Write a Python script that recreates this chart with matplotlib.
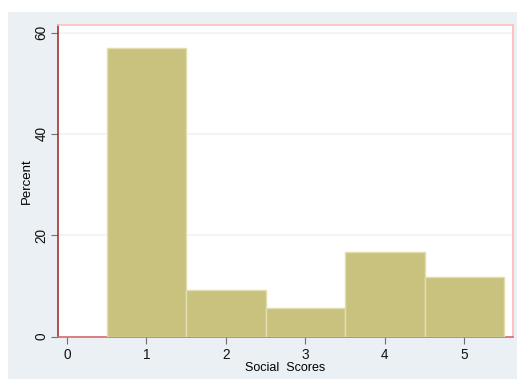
import matplotlib
matplotlib.use("Agg")
import matplotlib.pyplot as plt
from matplotlib.patches import Rectangle

plt.rcParams['font.family'] = ['Liberation Sans', 'DejaVu Sans']

scores = [1, 2, 3, 4, 5]
percent = [56.9, 9.2, 5.6, 16.65, 11.8]
xticks = [0, 1, 2, 3, 4, 5]
yticks = [0, 20, 40, 60]

fig = plt.figure(figsize=(5.17, 3.79), dpi=100)
fig.patch.set_facecolor('white')
# graph region background
fig.add_artist(Rectangle((8 / 517, 0), 1, (379 - 12) / 379, transform=fig.transFigure,
                         facecolor='#EAF0F3', edgecolor='none', zorder=0))

ax = fig.add_axes([58.3 / 517, 1 - 336.7 / 379, (512.7 - 58.3) / 517, (336.7 - 25) / 379])
ax.set_facecolor('white')

ax.bar(scores, percent, width=1.0, color='#C9C27F', edgecolor='#E2DDAE', linewidth=1.0, zorder=3)

ax.set_xlim(-0.11, 5.61)
ax.set_ylim(0, 61.5)
ax.set_xticks(xticks)
ax.set_yticks(yticks)
ax.set_yticklabels([str(v) for v in yticks], rotation=90, va='center')
ax.tick_params(axis='both', direction='out', length=5, width=0.8, color='#707070',
               labelsize=9.8, labelcolor='#111111', pad=3)
ax.tick_params(axis='y', pad=2)
ax.grid(axis='y', color='#EEF3F4', linewidth=1.2, zorder=0)

ax.spines['left'].set_color('#A83232')
ax.spines['bottom'].set_color('#D96A6A')
ax.spines['top'].set_color('#FFC0C0')
ax.spines['right'].set_color('#FFB8B8')
for s in ax.spines.values():
    s.set_linewidth(1.2)

ax.set_xlabel('Social  Scores', fontsize=9, labelpad=0)
ax.set_ylabel('Percent', fontsize=9.5)
ax.yaxis.set_label_coords(-0.055, 0.5)

fig.savefig('out.png', dpi=100)
